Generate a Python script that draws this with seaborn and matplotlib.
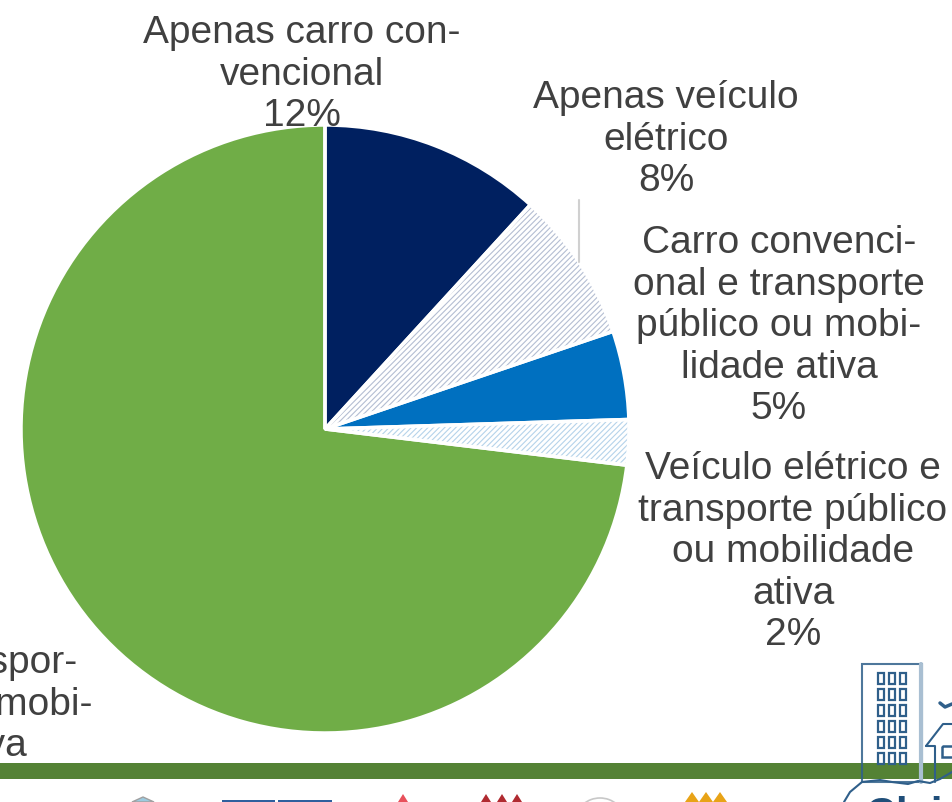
import matplotlib

matplotlib.use("Agg")
import matplotlib.pyplot as plt
import pandas as pd
import seaborn as sns
from matplotlib.patches import Arc, Polygon, Rectangle

categories = [
    "Apenas carro con-\nvencional",
    "Apenas veículo\nelétrico",
    "Carro convenci-\nonal e transporte\npúblico ou mobi-\nlidade ativa",
    "Veículo elétrico e\ntransporte público\nou mobilidade\nativa",
    "Apenas transpor-\nte público ou mobi-\nlidade ativa",
]
shares = [11.8, 8.0, 4.7, 2.4, 73.1]

slice_colors = ["#002060", "white", "#0070C0", "white", "#70AD47"]
hatch_colors = ["#002060", "#B4BED2", "#0070C0", "#B5D3EA", "#70AD47"]
hatches = [None, "//////", None, "//////", None]
# label centres in pixels, measured on the picture
label_pos = [(302, 15), (666, 80), (779, 225), (793, 451), (-72, 645)]

W, H = 952, 802
CX, CY, R = 325, 429, 304

sns.set_theme(style="white")
plt.rcParams["font.family"] = ["Liberation Sans", "DejaVu Sans"]
plt.rcParams["hatch.linewidth"] = 0.8

df = pd.DataFrame({"category": categories, "share": shares})

fig = plt.figure(figsize=(W / 100, H / 100), dpi=100)

# pie sits in its own axes, placed so the circle lands on the right pixels
ax = fig.add_axes([(CX - R) / W, 1 - (CY + R) / H, 2 * R / W, 2 * R / H])
wedges, _ = ax.pie(df["share"], startangle=90, counterclock=False, radius=1)
for w, fc, hc, ha in zip(wedges, slice_colors, hatch_colors, hatches):
    w.set_facecolor(fc)
    w.set_edgecolor(hc)
    w.set_linewidth(0)
    if ha:
        w.set_hatch(ha)
ax.pie(
    df["share"],
    startangle=90,
    counterclock=False,
    radius=1,
    wedgeprops=dict(fill=False, edgecolor="white", linewidth=2.5),
)
for w in ax.patches[len(wedges):]:
    w.set_joinstyle("bevel")
ax.set_xlim(-1, 1)
ax.set_ylim(-1, 1)
ax.axis("off")

# overlay in pixel coordinates for the slide furniture
over = fig.add_axes([0, 0, 1, 1])
over.set_xlim(0, W)
over.set_ylim(H, 0)
over.axis("off")
over.patch.set_alpha(0)

for cat, share, (x, y) in zip(df["category"], df["share"], label_pos):
    over.text(
        x,
        y,
        f"{cat}\n{share:.0f}%",
        ha="center",
        va="top",
        fontsize=28,
        color="#404040",
        linespacing=1.2,
        clip_on=True,
    )

# leader line
over.plot([579, 579], [200, 262], color="#D0D0D0", lw=1.5)

# green footer bar
over.add_patch(Rectangle((0, 763), W, 16, color="#548235", lw=0))

# building
navy = "#2F5F8A"
over.add_patch(Rectangle((862, 664), 60, 118, fill=False, edgecolor=navy, lw=1.5, alpha=0.85))
over.plot([921, 921], [664, 782], color="#A9BFD2", lw=3)
for row in range(6):
    for col in range(3):
        over.add_patch(
            Rectangle((878 + col * 11, 673 + row * 16), 6, 11, fill=False, edgecolor=navy, lw=1.6)
        )

# house
over.plot([926, 943, 952], [746, 724, 724], color=navy, lw=1.5)
over.plot([926, 935, 935], [746, 746, 782], color=navy, lw=1.5)
over.add_patch(Rectangle((942, 746), 12, 11, fill=False, edgecolor=navy, lw=1.8))
over.plot([940, 945, 952], [703, 707, 704], color=navy, lw=2.5)

# cloud and cut-off logo text
over.plot(
    [844, 850, 862, 880, 892, 908, 918, 930, 940, 952],
    [802, 792, 782, 780, 782, 784, 781, 783, 779, 772],
    color=navy,
    lw=1.5,
)
over.text(866, 796, "Cl  i", fontsize=30, fontweight="bold", color="#1F4E79", va="top", clip_on=True)

# tops of the logos along the bottom edge, the rest is cut off by the slide
over.add_patch(Polygon([[132, 802], [143, 797], [154, 802]], fc="#9CCBE0", ec="#A0A0A0", lw=1))
over.add_patch(Rectangle((222, 800), 53, 4, color="#2F5F9E", lw=0))
over.add_patch(Rectangle((278, 800), 54, 4, color="#2F5F9E", lw=0))
over.add_patch(Polygon([[398, 802], [403, 794], [408, 802]], color="#E8505B", lw=0))
for x in [486, 502, 517]:
    over.add_patch(Polygon([[x - 5, 802], [x, 794], [x + 5, 802]], color="#B02A30", lw=0))
over.add_artist(Arc((600, 818), 46, 40, theta1=0, theta2=360, color="#C8C8C8", lw=1.2))
for x in [692, 706, 720]:
    over.add_patch(Polygon([[x - 7, 802], [x, 792], [x + 7, 802]], color="#E8A317", lw=0))

fig.savefig("out.png", dpi=100)
